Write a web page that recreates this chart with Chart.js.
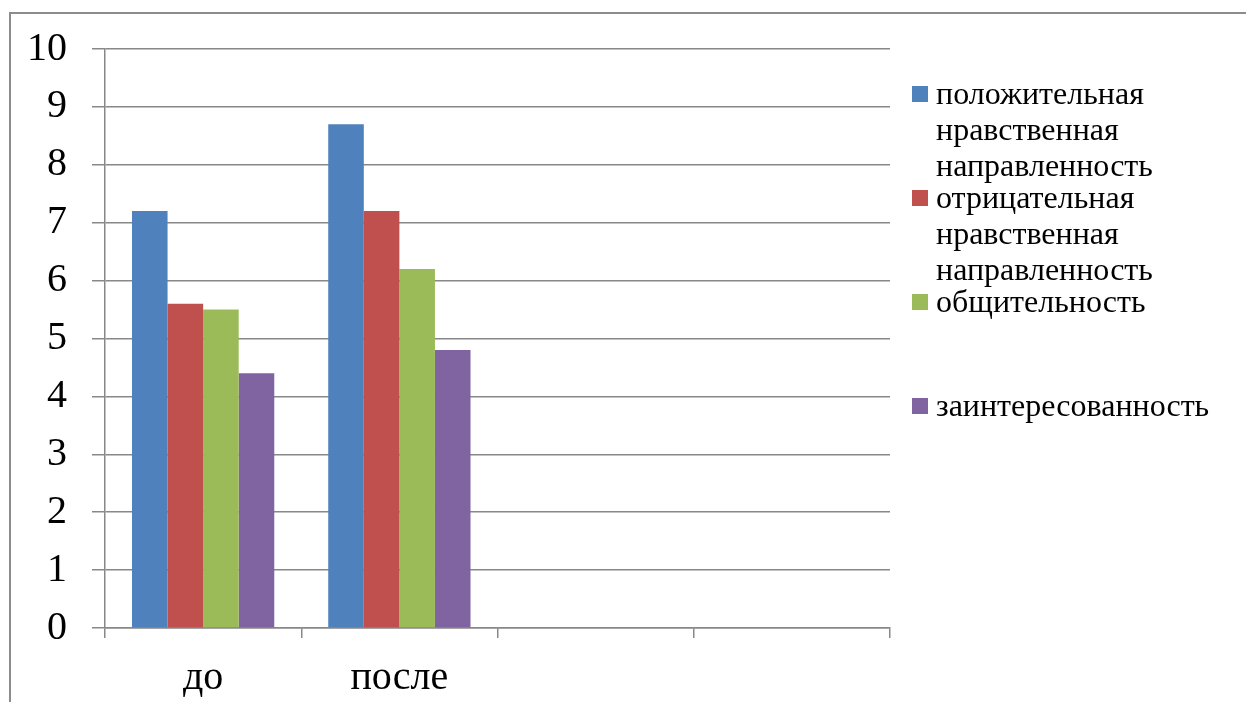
<!DOCTYPE html>
<html>
<head>
<meta charset="utf-8">
<script src="https://cdn.jsdelivr.net/npm/chart.js@4.4.1/dist/chart.umd.min.js"></script>
<style>
html, body { margin: 0; padding: 0; background: #fff; overflow: hidden; }
#wrap { position: relative; width: 1246px; height: 702px; }
#frame { position: absolute; left: 9px; top: 12px; width: 1300px; height: 800px; border: 2px solid #8c8c8c; box-sizing: border-box; }
#chart { position: absolute; left: 0; top: 0; }
</style>
</head>
<body>
<div id="wrap">
  <div id="frame"></div>
  <canvas id="chart" width="1246" height="702"></canvas>
</div>
<script>
// DATA
const categories = ['до', 'после', '', ''];
const seriesNames = [
  'положительная нравственная направленность',
  'отрицательная нравственная направленность',
  'общительность',
  'заинтересованность'
];
const positiveMoral = [7.2, 8.7, null, null];
const negativeMoral = [5.6, 7.2, null, null];
const sociability = [5.5, 6.2, null, null];
const interest = [4.4, 4.8, null, null];
const yTicks = [0, 1, 2, 3, 4, 5, 6, 7, 8, 9, 10];

const colors = ['#4F81BD', '#C0504D', '#9BBB59', '#8064A2'];
const serif = "'Times New Roman', 'Liberation Serif', Tinos, 'DejaVu Serif', serif";

// LEGEND (drawn at the right side, Excel style)
const sideLegend = {
  id: 'sideLegend',
  afterDraw(chart) {
    const ctx = chart.ctx;
    const area = chart.chartArea;
    const boxX = area.right + 22;
    const textX = boxX + 24;
    const maxW = 1246 - textX - 4;
    ctx.save();
    ctx.font = '32px ' + serif;
    ctx.textBaseline = 'middle';
    ctx.textAlign = 'left';
    chart.data.datasets.forEach((ds, i) => {
      const midY = area.top + 47 + i * 104;
      // wrap words
      const words = ds.label.split(' ');
      const lines = [];
      let cur = '';
      words.forEach(w => {
        const test = cur ? cur + ' ' + w : w;
        if (cur && ctx.measureText(test).width > maxW) {
          lines.push(cur);
          cur = w;
        } else {
          cur = test;
        }
      });
      if (cur) lines.push(cur);

      ctx.fillStyle = ds.backgroundColor;
      ctx.fillRect(boxX, midY - 10, 16, 16);
      ctx.fillStyle = '#000';
      lines.forEach((l, j) => {
        ctx.fillText(l, textX, midY + j * 36);
      });
    });
    ctx.restore();
  }
};

const seriesData = [positiveMoral, negativeMoral, sociability, interest];

const ctx = document.getElementById('chart').getContext('2d');
new Chart(ctx, {
  type: 'bar',
  data: {
    labels: categories,
    datasets: seriesData.map((d, i) => ({
      label: seriesNames[i],
      data: d,
      backgroundColor: colors[i],
      borderWidth: 0,
      barPercentage: 1,
      categoryPercentage: 0.725
    }))
  },
  options: {
    responsive: false,
    animation: false,
    layout: { padding: { left: 0, top: 49, right: 356, bottom: 0 } },
    plugins: {
      legend: { display: false },
      tooltip: { enabled: false }
    },
    scales: {
      x: {
        afterFit(scale) { scale.height = 74; },
        grid: { offset: true, drawOnChartArea: false, tickLength: 10, color: '#888', lineWidth: 1.5 },
        border: { display: true, color: '#888', width: 1.5 },
        ticks: { font: { family: serif, size: 40 }, color: '#000', padding: 16 }
      },
      y: {
        min: 0,
        max: 10,
        afterFit(scale) { scale.width = 105; },
        afterBuildTicks(scale) { scale.ticks = yTicks.map(v => ({ value: v })); },
        grid: { color: '#888', lineWidth: 1.5, tickLength: 13 },
        border: { display: true, color: '#888', width: 1.5 },
        ticks: { font: { family: serif, size: 40 }, color: '#000', padding: 25 }
      }
    }
  },
  plugins: [sideLegend]
});
</script>
</body>
</html>
